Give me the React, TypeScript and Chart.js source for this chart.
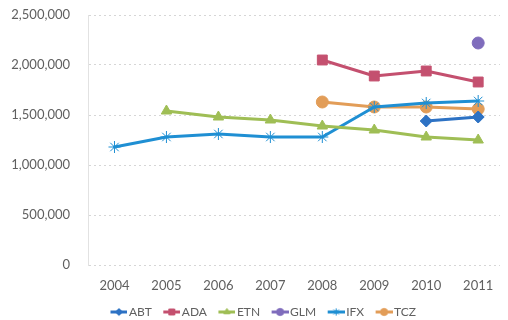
import React, { useEffect, useRef } from 'react';
import { Chart, registerables } from 'chart.js';
import { drawPoint } from 'chart.js/helpers';

Chart.register(...registerables);

// Years on the horizontal axis
const years = ['2004', '2005', '2006', '2007', '2008', '2009', '2010', '2011'];

// Yearly values per company (null = no value that year)
const abt = [null, null, null, null, null, null, 1440000, 1480000];
const ada = [null, null, null, null, 2050000, 1890000, 1940000, 1830000];
const etn = [null, 1540000, 1480000, 1450000, 1390000, 1350000, 1280000, 1250000];
const glm = [null, null, null, null, null, null, null, 2220000];
const ifx = [1180000, 1280000, 1310000, 1280000, 1280000, 1580000, 1620000, 1640000];
const tcz = [null, null, null, null, 1630000, 1580000, 1580000, 1560000];

// Value axis bounds and tick step
const yMin = 0;
const yMax = 2500000;
const yStep = 500000;

// Horizontal extent: half a year of room before the first year, less after the last
const xMin = 2003.49;
const xMax = 2011.42;

const seriesNames = ['ABT', 'ADA', 'ETN', 'GLM', 'IFX', 'TCZ'];
const seriesValues = [abt, ada, etn, glm, ifx, tcz];
const seriesColors = ['#2d72c4', '#c4506f', '#9fbe55', '#7f6cbc', '#1f8fd3', '#e29d58'];
const seriesMarkers = ['rectRot', 'rect', 'triangle', 'circle', 'star', 'circle'];
const markerRadius = [6, 7, 6, 6, 6, 6];

const textColor = '#606060';
const fontFamily = 'Lato, "Open Sans", sans-serif';

// Legend geometry
const legendBoxWidth = 22;
const swatchWidth = 31;
const swatchLine = 17;
const legendHeight = 16;
const legendLeft = 9;

// Legend swatch: a short line segment with the series marker on top
function legendSwatch(color: string, style: string, radius: number): HTMLCanvasElement {
  const c = document.createElement('canvas');
  c.width = swatchWidth;
  c.height = 10;
  const ctx = c.getContext('2d')!;
  const x0 = swatchWidth - swatchLine;
  ctx.strokeStyle = color;
  ctx.lineWidth = 3;
  ctx.beginPath();
  ctx.moveTo(x0, 5);
  ctx.lineTo(swatchWidth, 5);
  ctx.stroke();
  ctx.fillStyle = color;
  ctx.lineWidth = 1;
  drawPoint(ctx, { pointStyle: style as any, radius, rotation: 0, borderWidth: 1 } as any, x0 + swatchLine / 2, 5);
  return c;
}

// Keeps the legend row compact and slightly right of centre
const compactLegend = {
  id: 'compactLegend',
  beforeLayout(chart: any) {
    const lg = chart.legend;
    if (lg && !lg.__compact) {
      const fit = lg.fit.bind(lg);
      lg.fit = () => {
        fit();
        lg.height = legendHeight;
      };
      lg.__compact = true;
    }
  },
  afterLayout(chart: any) {
    const lg = chart.legend;
    if (lg) lg.left = legendLeft;
  },
};

export default function App() {
  const canvasRef = useRef<HTMLCanvasElement | null>(null);

  useEffect(() => {
    const canvas = canvasRef.current;
    if (!canvas) return;

    const datasets = seriesNames.map((name, i) => ({
      label: name,
      data: years.map((yr, j) => ({ x: Number(yr), y: seriesValues[i][j] })),
      borderColor: seriesColors[i],
      backgroundColor: seriesColors[i],
      pointBackgroundColor: seriesColors[i],
      pointBorderColor: seriesColors[i],
      pointStyle: seriesMarkers[i] as any,
      pointRadius: markerRadius[i],
      pointBorderWidth: 1,
      borderWidth: 3,
      borderJoinStyle: 'round' as const,
      borderCapStyle: 'round' as const,
      tension: 0,
      spanGaps: false,
    }));

    const swatches = seriesNames.map((_, i) =>
      legendSwatch(seriesColors[i], seriesMarkers[i], markerRadius[i] * 0.6)
    );

    const chart = new Chart(canvas, {
      type: 'line',
      data: { datasets },
      plugins: [compactLegend],
      options: {
        animation: false,
        responsive: false,
        devicePixelRatio: 1,
        layout: { padding: { top: 15, bottom: 0, left: 0, right: 0 } },
        plugins: {
          tooltip: { enabled: false },
          legend: {
            position: 'bottom',
            labels: {
              usePointStyle: true,
              pointStyleWidth: legendBoxWidth,
              padding: 2,
              color: textColor,
              font: { family: fontFamily, size: 12 },
              generateLabels: (ch: any) => {
                const items = Chart.defaults.plugins.legend.labels.generateLabels(ch);
                return items.map((it: any, i: number) => ({ ...it, pointStyle: swatches[i] }));
              },
            },
          },
        },
        scales: {
          x: {
            type: 'linear',
            min: xMin,
            max: xMax,
            grid: { display: false, drawTicks: false },
            border: { display: false },
            ticks: {
              color: textColor,
              font: { family: fontFamily, size: 13 },
              padding: 13,
              maxRotation: 0,
              autoSkip: false,
              callback: (v: any) => String(v),
            },
            afterBuildTicks: (scale: any) => {
              scale.ticks = years.map((yr) => ({ value: Number(yr) }));
            },
            afterFit: (scale: any) => {
              scale.height = 39;
              scale.paddingLeft = 0;
              scale.paddingRight = 0;
            },
          },
          y: {
            min: yMin,
            max: yMax,
            grid: { color: '#d6d6d6', lineWidth: 1, drawTicks: false },
            border: { display: true, color: '#e2e2e2', dash: [2, 3] },
            ticks: {
              stepSize: yStep,
              color: textColor,
              font: { family: fontFamily, size: 13 },
              padding: 18,
              callback: (v: any) => Number(v).toLocaleString('en-US'),
            },
            afterFit: (scale: any) => {
              scale.width = 88;
              scale.paddingTop = 0;
              scale.paddingBottom = 0;
            },
          },
        },
      },
    });

    return () => chart.destroy();
  }, []);

  return (
    <div
      style={{
        position: 'fixed',
        left: 0,
        top: 0,
        width: 508,
        height: 320,
        overflow: 'hidden',
        background: '#ffffff',
      }}
    >
      <canvas ref={canvasRef} width={508} height={320} style={{ display: 'block' }} />
    </div>
  );
}
